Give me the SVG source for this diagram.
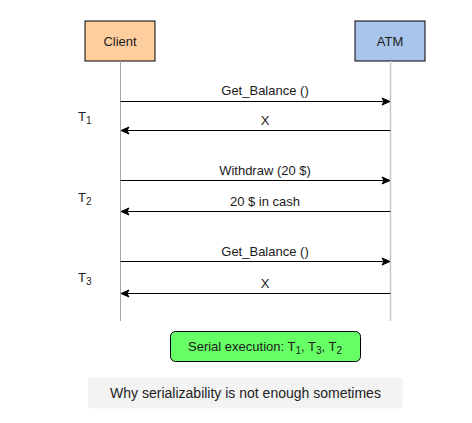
<svg xmlns="http://www.w3.org/2000/svg" width="472" height="423" viewBox="0 0 472 423">
<defs>
<marker id="ah" markerWidth="10" markerHeight="10" refX="9" refY="5" orient="auto" markerUnits="userSpaceOnUse">
<path d="M1,1.5 L9,5 L1,8.5 L3,5 Z" fill="#000" stroke="#000" stroke-width="1"/>
</marker>
<style>
text{font-family:"Liberation Sans",Arial,sans-serif;fill:#1a1a1a}
.lbl{font-size:13px;text-anchor:middle}
.t{font-size:13px}
.life{stroke:#a6a6a6;stroke-width:1;fill:none}
.msg{stroke:#000;stroke-width:1;fill:none;marker-end:url(#ah)}
</style>
</defs>
<rect width="472" height="423" fill="#fff"/>
<g id="client">
<rect x="85" y="21" width="70" height="40" fill="#FFCE9F" stroke="#000"/>
<text x="120" y="45.5" class="lbl">Client</text>
<line x1="120.5" y1="61" x2="120.5" y2="321" class="life"/>
</g>
<g id="atm">
<rect x="355" y="21" width="70" height="40" fill="#A9C4EB" stroke="#000"/>
<text x="390" y="45.5" class="lbl">ATM</text>
<line x1="390.5" y1="61" x2="390.5" y2="321" class="life" style="stroke:#c8c8c8;stroke-width:1.5"/>
</g>
<g id="connectors">
<line x1="120.5" y1="101.5" x2="390" y2="101.5" class="msg"/>
<line x1="390.5" y1="130.5" x2="121" y2="130.5" class="msg"/>
<line x1="120.5" y1="180.5" x2="390" y2="180.5" class="msg"/>
<line x1="390.5" y1="211.5" x2="121" y2="211.5" class="msg"/>
<line x1="120.5" y1="261.5" x2="390" y2="261.5" class="msg"/>
<line x1="390.5" y1="293.5" x2="121" y2="293.5" class="msg"/>
</g>
<g id="labels">
<text x="265" y="95" class="lbl">Get_Balance ()</text>
<text x="265" y="124.5" class="lbl">X</text>
<text x="265" y="175" class="lbl">Withdraw (20 $)</text>
<text x="265" y="205.5" class="lbl">20 $ in cash</text>
<text x="265" y="256" class="lbl">Get_Balance ()</text>
<text x="265" y="287.5" class="lbl">X</text>
</g>
<g id="tlabels">
<text x="78" y="121" class="t">T<tspan font-size="10" dy="3">1</tspan></text>
<text x="78" y="202" class="t">T<tspan font-size="10" dy="3">2</tspan></text>
<text x="78" y="282" class="t">T<tspan font-size="10" dy="3">3</tspan></text>
</g>
<g id="serial">
<rect x="170.5" y="331.5" width="190" height="30" rx="5" fill="#66FF66" stroke="#000"/>
<text x="265" y="351" class="lbl">Serial execution: T<tspan font-size="10" dy="3">1</tspan><tspan dy="-3">, T</tspan><tspan font-size="10" dy="3">3</tspan><tspan dy="-3">, T</tspan><tspan font-size="10" dy="3">2</tspan></text>
</g>
<g id="caption">
<rect x="88" y="377.5" width="315" height="31" rx="4" fill="#F3F3F3"/>
<text x="245.5" y="397.5" style="font-size:14px;text-anchor:middle;fill:#222">Why serializability is not enough sometimes</text>
</g>
</svg>
